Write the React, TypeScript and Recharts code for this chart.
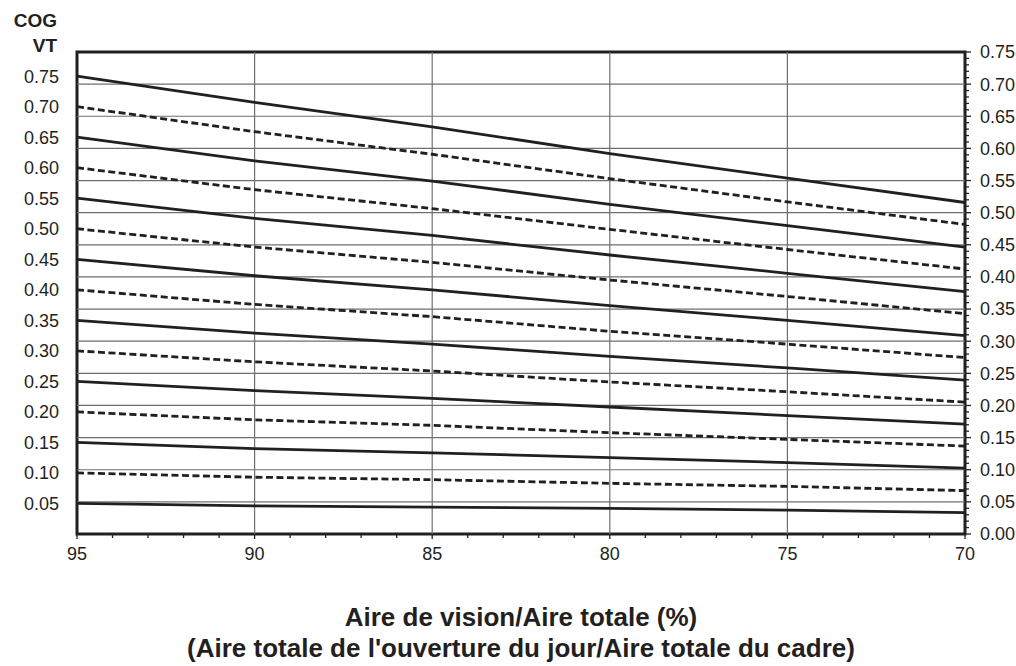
import { LineChart, Line, XAxis, YAxis, ReferenceLine, ReferenceArea } from 'recharts'

// ─── Data ─────────────────────────────────────────────────────────────────────

// Aire de vision / Aire totale (%), plotted right-to-left
const X_VALUES = [95, 90, 85, 80, 75, 70]

// one line per VT value; values are in the left (VT) axis units
const VT_075 = [0.750, 0.707, 0.667, 0.623, 0.583, 0.543]
const VT_070 = [0.700, 0.659, 0.622, 0.582, 0.544, 0.507]
const VT_065 = [0.650, 0.611, 0.578, 0.540, 0.505, 0.470]
const VT_060 = [0.600, 0.564, 0.533, 0.499, 0.466, 0.434]
const VT_055 = [0.550, 0.517, 0.489, 0.457, 0.427, 0.397]
const VT_050 = [0.500, 0.470, 0.445, 0.416, 0.389, 0.361]
const VT_045 = [0.450, 0.423, 0.400, 0.374, 0.350, 0.325]
const VT_040 = [0.400, 0.376, 0.356, 0.332, 0.311, 0.289]
const VT_035 = [0.350, 0.329, 0.311, 0.291, 0.272, 0.252]
const VT_030 = [0.300, 0.282, 0.267, 0.249, 0.233, 0.216]
const VT_025 = [0.250, 0.235, 0.222, 0.208, 0.194, 0.180]
const VT_020 = [0.200, 0.187, 0.178, 0.166, 0.155, 0.144]
const VT_015 = [0.150, 0.140, 0.133, 0.125, 0.117, 0.108]
const VT_010 = [0.100, 0.093, 0.089, 0.083, 0.078, 0.071]
const VT_005 = [0.050, 0.046, 0.044, 0.042, 0.039, 0.035]

// axis ticks
const X_LABELS = [95, 90, 85, 80, 75, 70]
const X_GRID = [90, 85, 80, 75]
const LEFT_TICKS = [0.05, 0.10, 0.15, 0.20, 0.25, 0.30, 0.35, 0.40, 0.45, 0.50, 0.55, 0.60, 0.65, 0.70, 0.75]
const RIGHT_TICKS = [0.00, 0.05, 0.10, 0.15, 0.20, 0.25, 0.30, 0.35, 0.40, 0.45, 0.50, 0.55, 0.60, 0.65, 0.70, 0.75]
const RIGHT_GRID = [0.05, 0.10, 0.15, 0.20, 0.25, 0.30, 0.35, 0.40, 0.45, 0.50, 0.55, 0.60, 0.65, 0.70]

// ─── Config ───────────────────────────────────────────────────────────────────

const INK = '#231f20'
const GRID = '#6f6f6f'
const FONT = '"Liberation Sans", Arial, sans-serif'

const LEFT_MAX = 0.7895   // VT axis top (0.75 / 0.95)
const RIGHT_MAX = 0.75    // COG axis top

const SERIES = [
  { key: 'v075', values: VT_075, dashed: false },
  { key: 'v070', values: VT_070, dashed: true },
  { key: 'v065', values: VT_065, dashed: false },
  { key: 'v060', values: VT_060, dashed: true },
  { key: 'v055', values: VT_055, dashed: false },
  { key: 'v050', values: VT_050, dashed: true },
  { key: 'v045', values: VT_045, dashed: false },
  { key: 'v040', values: VT_040, dashed: true },
  { key: 'v035', values: VT_035, dashed: false },
  { key: 'v030', values: VT_030, dashed: true },
  { key: 'v025', values: VT_025, dashed: false },
  { key: 'v020', values: VT_020, dashed: true },
  { key: 'v015', values: VT_015, dashed: false },
  { key: 'v010', values: VT_010, dashed: true },
  { key: 'v005', values: VT_005, dashed: false },
]

const chartData = X_VALUES.map((x, i) => {
  const row: Record<string, number> = { x }
  for (const s of SERIES) row[s.key] = s.values[i]
  return row
})

// minor tick positions (every 1 % on x, every 0.01 on the right axis)
const X_MINOR = Array.from({ length: 26 }, (_, i) => 95 - i)
const RIGHT_MINOR = Array.from({ length: 76 }, (_, i) => i / 100)

const isIn = (list: number[], v: number) => list.some(t => Math.abs(t - v) < 1e-6)

// ─── Ticks ────────────────────────────────────────────────────────────────────

function BottomTick({ x, y, payload }: { x?: number; y?: number; payload?: { value: number } }) {
  const v = payload!.value
  const major = isIn(X_LABELS, v)
  return (
    <g>
      <line x1={x} x2={x} y1={y} y2={y! + (major ? 5 : 4)} stroke={INK} strokeWidth={1.3} />
      {major && (
        <text x={x} y={y! + 26} textAnchor="middle" fontSize={18} fill={INK} fontFamily={FONT}>
          {v}
        </text>
      )}
    </g>
  )
}

function RightTick({ x, y, payload }: { x?: number; y?: number; payload?: { value: number } }) {
  const v = payload!.value
  const major = isIn(RIGHT_TICKS, v)
  return (
    <g>
      <line x1={x} x2={x! + (major ? 6 : 4)} y1={y} y2={y} stroke={INK} strokeWidth={1.3} />
      {major && (
        <text x={x! + 15} y={y} dy="0.355em" textAnchor="start" fontSize={18} fill={INK} fontFamily={FONT}>
          {v.toFixed(2)}
        </text>
      )}
    </g>
  )
}

// ─── Component ────────────────────────────────────────────────────────────────

export default function App() {
  return (
    <div style={{ position: 'absolute', left: 0, top: 0, width: 1016, height: 666, background: '#fff' }}>
      <LineChart
        width={1016}
        height={666}
        data={chartData}
        margin={{ top: 52, right: 0, bottom: 102, left: 7 }}
      >
        <XAxis
          dataKey="x"
          type="number"
          domain={[70, 95]}
          reversed
          ticks={X_MINOR}
          interval={0}
          axisLine={false}
          tickLine={false}
          tickSize={0}
          tickMargin={0}
          height={30}
          tick={<BottomTick />}
        />
        <YAxis
          yAxisId="left"
          type="number"
          domain={[0, LEFT_MAX]}
          allowDataOverflow
          ticks={LEFT_TICKS}
          interval={0}
          tickFormatter={(v: number) => v.toFixed(2)}
          axisLine={false}
          tickLine={false}
          tickSize={0}
          tickMargin={18}
          width={70}
          tick={{ fontSize: 18, fill: INK, fontFamily: FONT }}
        />
        <YAxis
          yAxisId="right"
          orientation="right"
          type="number"
          domain={[0, RIGHT_MAX]}
          allowDataOverflow
          ticks={RIGHT_MINOR}
          interval={0}
          axisLine={false}
          tickLine={false}
          tickSize={0}
          tickMargin={0}
          width={51}
          tick={<RightTick />}
        />

        {RIGHT_GRID.map(v => (
          <ReferenceLine key={`h${v}`} yAxisId="right" y={v} stroke={GRID} strokeWidth={1.2} />
        ))}
        {X_GRID.map(v => (
          <ReferenceLine key={`v${v}`} yAxisId="left" x={v} stroke={GRID} strokeWidth={1.2} />
        ))}

        {SERIES.map(s => (
          <Line
            key={s.key}
            yAxisId="left"
            type="linear"
            dataKey={s.key}
            stroke={INK}
            strokeWidth={2.8}
            strokeDasharray={s.dashed ? '7 3.5' : undefined}
            dot={false}
            activeDot={false}
            isAnimationActive={false}
          />
        ))}

        {/* heavy frame round the plot */}
        <ReferenceArea
          yAxisId="left"
          x1={95}
          x2={70}
          y1={0}
          y2={LEFT_MAX}
          fill="none"
          fillOpacity={0}
          stroke={INK}
          strokeWidth={3}
        />
      </LineChart>

      {/* axis captions */}
      <svg width={1016} height={666} style={{ position: 'absolute', left: 0, top: 0, pointerEvents: 'none' }}>
        <g fontFamily={FONT} fontWeight="bold" fill={INK}>
          <text x={57} y={27} fontSize={19} textAnchor="end">COG</text>
          <text x={57} y={52} fontSize={19} textAnchor="end">VT</text>
          <text x={521} y={626} fontSize={26} textAnchor="middle">Aire de vision/Aire totale (%)</text>
          <text x={521} y={657} fontSize={26} textAnchor="middle">
            (Aire totale de l'ouverture du jour/Aire totale du cadre)
          </text>
        </g>
      </svg>
    </div>
  )
}
